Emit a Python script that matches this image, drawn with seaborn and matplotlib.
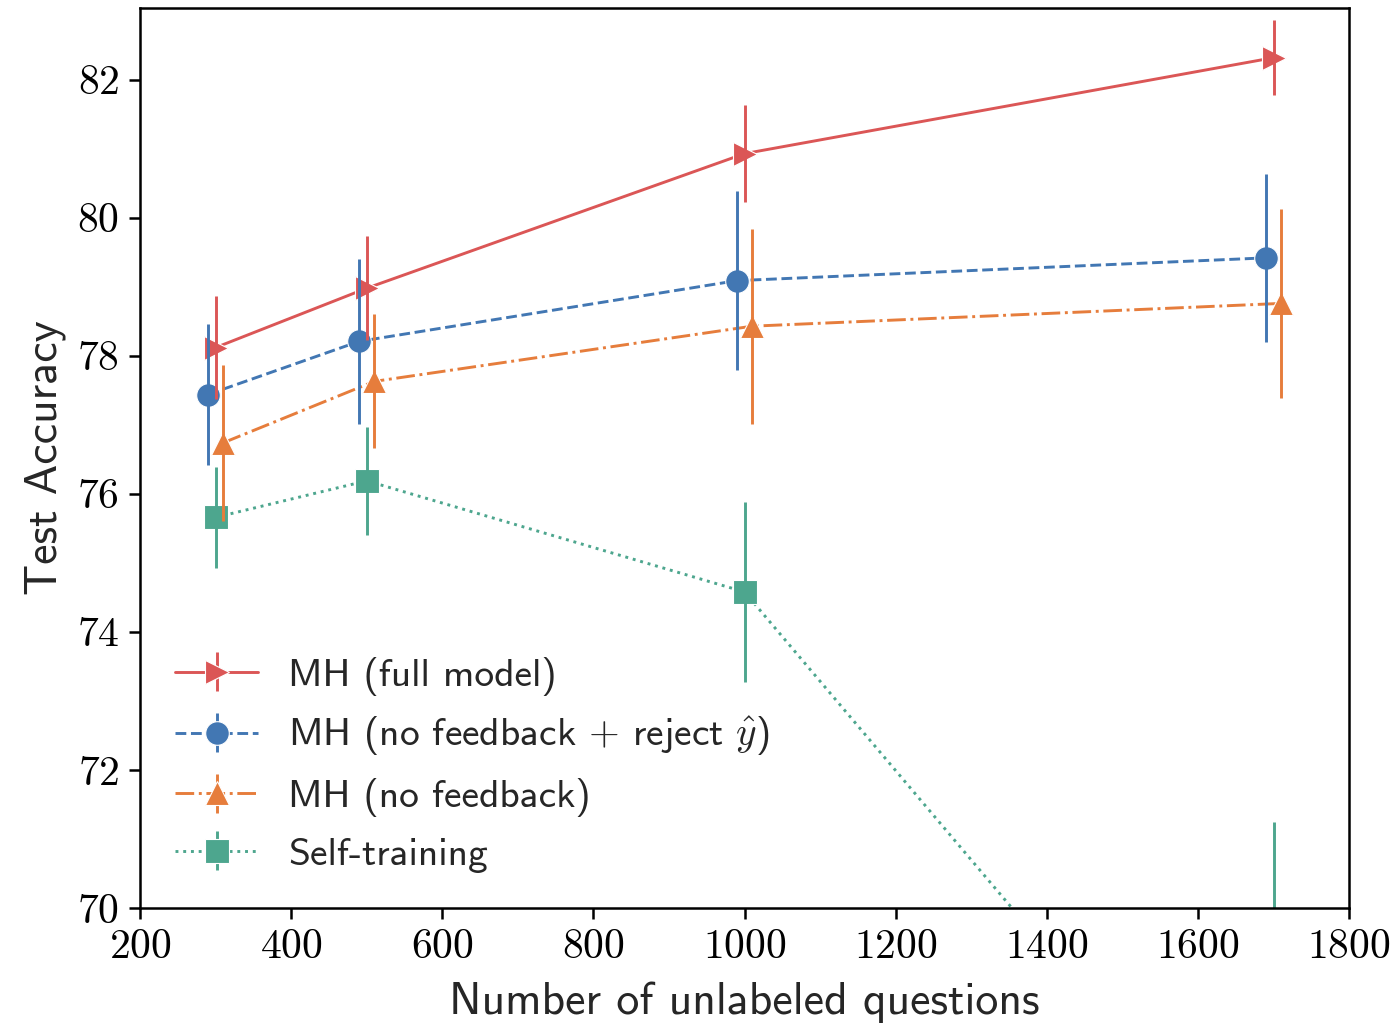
import numpy as np
import pandas as pd
import matplotlib
matplotlib.use("Agg")
import matplotlib.pyplot as plt
from matplotlib.container import ErrorbarContainer
from matplotlib.legend_handler import HandlerErrorbar
from matplotlib.ticker import FuncFormatter
import seaborn as sns

# data
n_questions = [300, 500, 1000, 1700]
methods = ["MH (full model)", r"MH (no feedback $+$ reject $\hat{y}$)",
           "MH (no feedback)", "Self-training"]
acc_full = [78.12, 78.98, 80.93, 82.32]
err_full = [0.75, 0.75, 0.70, 0.54]
acc_reject = [77.44, 78.21, 79.09, 79.42]
err_reject = [1.02, 1.20, 1.30, 1.22]
acc_nofb = [76.74, 77.63, 78.43, 78.76]
err_nofb = [1.13, 0.97, 1.41, 1.37]
acc_self = [75.66, 76.19, 74.58, 65.52]
err_self = [0.73, 0.78, 1.30, 5.73]
dodge = [0, -10, 10, 0]  # small x shift so the bars don't overlap

colors = ["#DB5656", "#4277B3", "#E67D3C", "#4DA68E"]
markers = [">", "o", "^", "s"]
dashes = ["", (3.7, 1.6), (6.4, 1.6, 1, 1.6), (1, 1.65)]

accs = [acc_full, acc_reject, acc_nofb, acc_self]
errs = [err_full, err_reject, err_nofb, err_self]

rows = []
for m, a, e, d in zip(methods, accs, errs, dodge):
    for n, v, s in zip(n_questions, a, e):
        rows.append({"method": m, "n": n + d, "acc": v, "err": s})
df = pd.DataFrame(rows)

sns.set_style("ticks")
plt.rcParams["font.family"] = ["cmss10", "DejaVu Sans"]
plt.rcParams["mathtext.fontset"] = "cm"
plt.rcParams["axes.formatter.use_mathtext"] = True
plt.rcParams["axes.linewidth"] = 0.9
plt.rcParams["xtick.major.width"] = 0.9
plt.rcParams["ytick.major.width"] = 0.9
plt.rcParams["xtick.major.size"] = 4
plt.rcParams["ytick.major.size"] = 4
plt.rcParams["axes.edgecolor"] = "black"
plt.rcParams["xtick.color"] = "black"
plt.rcParams["ytick.color"] = "black"

fig = plt.figure(figsize=(6.985, 5.125), dpi=200)
ax = fig.add_axes([0.1002, 0.1141, 0.8655, 0.8781])

lw = 1.05
sns.lineplot(data=df, x="n", y="acc", hue="method", style="method",
             hue_order=methods, style_order=methods,
             palette=dict(zip(methods, colors)),
             markers=dict(zip(methods, markers)),
             dashes=dict(zip(methods, dashes)),
             errorbar=None, sort=False, legend=False,
             lw=lw, markersize=8.5, markeredgewidth=0.4, ax=ax)

data_lines = list(ax.lines)
handles = []
for i, m in enumerate(methods):
    sub = df[df["method"] == m]
    eb = ax.errorbar(sub["n"], sub["acc"], yerr=sub["err"], fmt="none",
                     ecolor=colors[i], elinewidth=lw, capsize=0)
    handles.append(ErrorbarContainer((data_lines[i], (), eb.lines[2]),
                                     has_xerr=False, has_yerr=True, label=m))

ax.set_xlim(200, 1800)
ax.set_ylim(70, 83.04)
ax.set_xticks(np.arange(200, 1801, 200))
ax.set_yticks(np.arange(70, 83, 2))
fmt = FuncFormatter(lambda v, p: f"${v:.0f}$")
ax.xaxis.set_major_formatter(fmt)
ax.yaxis.set_major_formatter(fmt)
ax.tick_params(labelsize=15)
ax.set_xlabel("Number of unlabeled questions", fontsize=16.5, labelpad=5.5)
ax.set_ylabel("Test Accuracy", fontsize=16.5, labelpad=4)

ax.legend(handles=handles, labels=methods, loc="lower left", frameon=False,
          fontsize=14.2, handlelength=2.1, handletextpad=0.75,
          labelspacing=0.5,
          handler_map={ErrorbarContainer: HandlerErrorbar(yerr_size=0.5)})

fig.savefig("out.png", dpi=200)
